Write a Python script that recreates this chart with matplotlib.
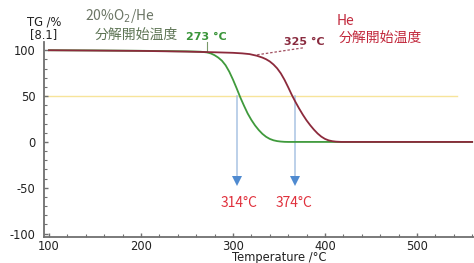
import matplotlib
matplotlib.use("Agg")
import matplotlib.pyplot as plt
from matplotlib.ticker import MultipleLocator

plt.rcParams['axes.unicode_minus'] = False

# ---- data ----
temp_o2 = [100, 150, 200, 250, 265, 272, 276, 280, 284, 288, 292, 296, 300, 304,
           308, 312, 316, 320, 324, 328, 332, 336, 340, 344, 348, 352, 356, 360,
           400, 450, 500, 560]
tg_o2 = [100, 99.8, 99.4, 98.8, 98.4, 97.6, 96.5, 94.6, 92, 88.6, 83.6, 76.6, 68, 58.5,
         48.5, 39.5, 31, 24, 18, 13, 8.8, 5.6, 3.3, 1.8, 0.9, 0.4, 0.1, 0,
         0, 0, 0, 0]

temp_he = [100, 200, 250, 280, 300, 310, 318, 326, 332, 336, 340, 344, 348, 352,
           356, 360, 364, 368, 372, 376, 380, 384, 388, 392, 396, 400, 404, 408,
           412, 418, 450, 500, 560]
tg_he = [100, 99.3, 98.5, 97.8, 97.2, 96.6, 95.8, 94, 92, 90.2, 87.8, 84.5, 80.3, 74.8,
         67.8, 59.7, 51.2, 43.5, 36.3, 29.6, 23.5, 18.2, 13.4, 9.2, 5.8, 3.3, 1.7, 0.8,
         0.3, 0, 0, 0, 0]

half_level = 50
half_x = [304, 367]
half_labels = ["314°C", "374°C"]
onset_o2 = 272
onset_he = 326

xticks = [100, 200, 300, 400, 500]
yticks = [-100, -50, 0, 50, 100]

W, H = 474, 263
fig = plt.figure(figsize=(W / 100, H / 100), dpi=100)
ax = fig.add_axes([44 / W, 1 - 237 / H, 1 - 44 / W, (237 - 42) / H])
ax.set_xlim(94.6, 562)
ax.set_ylim(-103.7, 109)

# reference 50% line
ax.plot([94.6, 544], [half_level, half_level], color="#f7e49a", lw=1.0, zorder=1)

# curves
ax.plot(temp_o2, tg_o2, color="#3f9a3c", lw=1.3, zorder=3)
ax.plot(temp_he, tg_he, color="#8c2a3c", lw=1.3, zorder=4)

# arrows
for xv in half_x:
    ax.plot([xv, xv], [half_level, -40], color="#a9c3e3", lw=1.1, zorder=2)
    ax.plot([xv], [-43], marker="v", markersize=7, color="#4f8ad0",
            markeredgewidth=0, zorder=2)

# onset markers
ax.plot([onset_o2, onset_o2], [98, 109], color="#7a9a6a", lw=0.8, zorder=2,
        clip_on=False)
ax.plot([376, onset_he], [102.6, 95], color="#a05060", lw=0.9, ls=(0, (2, 1.5)),
        zorder=2)

# axes styling
for s in ["top", "right"]:
    ax.spines[s].set_visible(False)
for s in ["left", "bottom"]:
    ax.spines[s].set_color("#707070")
    ax.spines[s].set_linewidth(1.3)
ax.set_xticks(xticks)
ax.set_yticks(yticks)
ax.xaxis.set_minor_locator(MultipleLocator(20))
ax.yaxis.set_minor_locator(MultipleLocator(10))
ax.tick_params(which="both", direction="in", color="#707070")
ax.tick_params(which="major", length=3, width=1)
ax.tick_params(which="minor", length=2, width=0.8)
ax.tick_params(axis="x", pad=2)
ax.tick_params(axis="y", pad=6)
sans = ["DejaVu Sans"]
cjk = ["Noto Sans CJK JP", "DejaVu Sans"]
for lab in ax.get_xticklabels() + ax.get_yticklabels():
    lab.set_fontfamily(sans)
    lab.set_fontsize(8.3)
    lab.set_color("#222222")


def ftext(px, py, s, **kw):
    fig.text(px / W, 1 - py / H, s, **kw)


ftext(44, 22, "TG /%", ha="center", va="center", fontsize=8.3, family=sans,
      color="#222222")
ftext(44, 35, "[8.1]", ha="center", va="center", fontsize=8.3, family=sans,
      color="#222222")
ftext(120, 16, "20%O$_2$/He", ha="center", va="center", fontsize=10, family=cjk,
      color="#6b7565")
ftext(136, 35, "分解開始温度", ha="center", va="center", fontsize=10, family=cjk,
      color="#5e7555")
ftext(206, 37, "273 °C", ha="center", va="center", fontsize=8, family=sans,
      fontweight="bold", color="#3a953a")
ftext(304, 42, "325 °C", ha="center", va="center", fontsize=8, family=sans,
      fontweight="bold", color="#8a2c40")
ftext(337, 21, "He", ha="left", va="center", fontsize=10, family=cjk,
      color="#c2283c")
ftext(380, 38, "分解開始温度", ha="center", va="center", fontsize=10, family=cjk,
      color="#c2283c")
for xv, lab in zip([239, 294], half_labels):
    ftext(xv, 203, lab, ha="center", va="center", fontsize=10, family=cjk,
          color="#e0303c")
ftext(279, 257.5, "Temperature /°C", ha="center", va="center", fontsize=8.3,
      family=sans, color="#222222")

fig.savefig("out.png", dpi=100)
